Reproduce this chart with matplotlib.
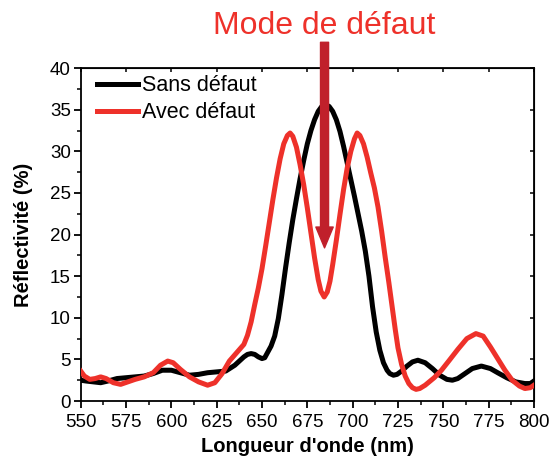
import numpy as np
import matplotlib.pyplot as plt
from matplotlib.ticker import MultipleLocator

plt.rcParams['font.family'] = ['Liberation Sans', 'DejaVu Sans']

# Sans défaut (black)
wl_sans = [550, 553, 557, 561, 565, 570, 575, 580, 585, 590, 595, 600, 605, 610,
           615, 620, 625, 630, 635, 640, 642, 644, 646, 648, 650, 651.5, 653, 655,
           657, 659, 661, 663, 665, 667, 669, 671, 673, 675, 677, 679, 681, 683,
           685, 687, 689, 691, 693, 695, 697, 699, 701, 703, 705, 707, 709, 711,
           713, 715, 717, 719, 720.5, 722.5, 724.5, 727, 730, 733, 736, 740, 744,
           748, 752, 755, 758, 762, 766, 771, 776, 780, 785, 790, 795, 798, 800]
r_sans = [2.5, 2.4, 2.3, 2.2, 2.4, 2.7, 2.8, 2.9, 3.0, 3.3, 3.7, 3.7, 3.4, 3.1,
          3.2, 3.4, 3.5, 3.6, 4.3, 5.3, 5.6, 5.7, 5.6, 5.3, 5.1, 5.2, 5.8, 6.6,
          7.8, 9.9, 12.8, 16.0, 19.0, 21.8, 24.3, 26.7, 28.9, 30.9, 32.5, 33.8, 34.8, 35.4,
          35.6, 35.4, 34.8, 33.8, 32.4, 30.6, 28.6, 26.6, 24.6, 22.5, 20.4, 18.0, 15.0, 11.3,
          8.3, 6.1, 4.6, 3.7, 3.3, 3.1, 3.2, 3.6, 4.2, 4.7, 4.9, 4.6, 3.9,
          3.1, 2.6, 2.5, 2.7, 3.3, 3.9, 4.2, 3.9, 3.4, 2.8, 2.3, 2.1, 2.1, 2.4]

# Avec défaut (red)
wl_avec = [550, 552, 555, 558, 561, 564, 568, 572, 576, 580, 585, 590, 594, 598,
           601, 605, 610, 615, 620, 624, 628, 632, 636, 640, 642, 644, 646, 648,
           650, 652, 654, 656, 658, 660, 662, 664, 665.5, 667, 669, 671, 673, 675,
           677, 679, 681, 682.5, 684.3, 686, 687.5, 689, 691, 693, 695, 697, 699,
           701, 702.5, 704, 706, 708, 710, 712, 714, 716, 718, 720, 722, 723.5,
           725, 727, 729, 731, 733, 735, 737, 740, 745, 749, 753, 758, 763, 768,
           772, 776, 780, 784, 788, 792, 795, 798, 800]
r_avec = [3.6, 3.0, 2.6, 2.7, 2.9, 2.7, 2.2, 2.0, 2.3, 2.6, 2.9, 3.4, 4.3, 4.8,
          4.6, 3.8, 2.9, 2.3, 1.9, 2.2, 3.3, 4.8, 5.8, 6.8, 7.9, 9.5, 11.6, 13.6,
          15.9, 18.6, 21.4, 24.2, 26.8, 29.1, 30.9, 31.9, 32.2, 31.8, 30.5, 28.4, 26.0, 23.2,
          20.2, 17.2, 14.6, 13.2, 12.5, 13.1, 14.4, 16.4, 19.3, 22.4, 25.4, 28.0, 30.0,
          31.5, 32.2, 31.9, 30.9, 29.3, 27.4, 25.6, 23.3, 20.4, 17.2, 14.2, 11.0, 8.6,
          6.4, 4.4, 3.0, 2.1, 1.6, 1.4, 1.5, 1.9, 2.8, 3.7, 4.8, 6.2, 7.5, 8.1,
          7.8, 6.5, 5.1, 3.7, 2.5, 1.8, 1.5, 1.6, 1.9]

mode_x = 684.5
arrow_top = 43.1
arrow_tip = 18.4

black = '#000000'
red = '#ee312a'
dark_red = '#c0202b'

fig = plt.figure(figsize=(5.51, 4.57), dpi=100)
ax = fig.add_axes([0.1465, 0.1225, 0.8225, 0.7285])

ax.plot(wl_sans, r_sans, color=black, lw=3.6, label='Sans défaut', zorder=3,
        solid_joinstyle='round')
ax.plot(wl_avec, r_avec, color=red, lw=3.6, label='Avec défaut', zorder=4,
        solid_joinstyle='round')

ax.set_xlim(550, 800)
ax.set_ylim(0, 40)
ax.xaxis.set_major_locator(MultipleLocator(25))
ax.xaxis.set_minor_locator(MultipleLocator(12.5))
ax.yaxis.set_major_locator(MultipleLocator(5))
ax.yaxis.set_minor_locator(MultipleLocator(2.5))
ax.tick_params(which='major', direction='out', length=5, width=1.3,
               labelsize=13.5, pad=2)
ax.tick_params(axis='x', which='major', pad=4)
ax.tick_params(which='minor', direction='out', length=3, width=1.1)
for s in ax.spines.values():
    s.set_linewidth(1.3)

top = ax.secondary_xaxis('top')
top.xaxis.set_major_locator(MultipleLocator(25))
top.tick_params(direction='in', length=3, width=1.1, labeltop=False)
right = ax.secondary_yaxis('right')
right.yaxis.set_major_locator(MultipleLocator(5))
right.tick_params(direction='in', length=3, width=1.1, labelright=False)

ax.set_xlabel("Longueur d'onde (nm)", fontsize=14.5, fontweight='bold', labelpad=5)
ax.set_ylabel('Réflectivité (%)', fontsize=14.5, fontweight='bold', labelpad=12)

ax.legend(loc='upper left', bbox_to_anchor=(0.018, 1.005), frameon=False,
          fontsize=15.5, handlelength=1.9, handletextpad=0.15, labelspacing=0.3,
          borderaxespad=0.1, borderpad=0.3)

ax.annotate('', xy=(mode_x, arrow_tip), xytext=(mode_x, arrow_top),
            xycoords='data', textcoords='data', annotation_clip=False,
            arrowprops=dict(width=5.8, headwidth=12.5, headlength=15,
                            color=dark_red, shrink=0), zorder=5)
ax.text(mode_x, 44.1, 'Mode de défaut', color=red, fontsize=23,
        ha='center', va='baseline', clip_on=False)

fig.savefig('out.png', dpi=100)
